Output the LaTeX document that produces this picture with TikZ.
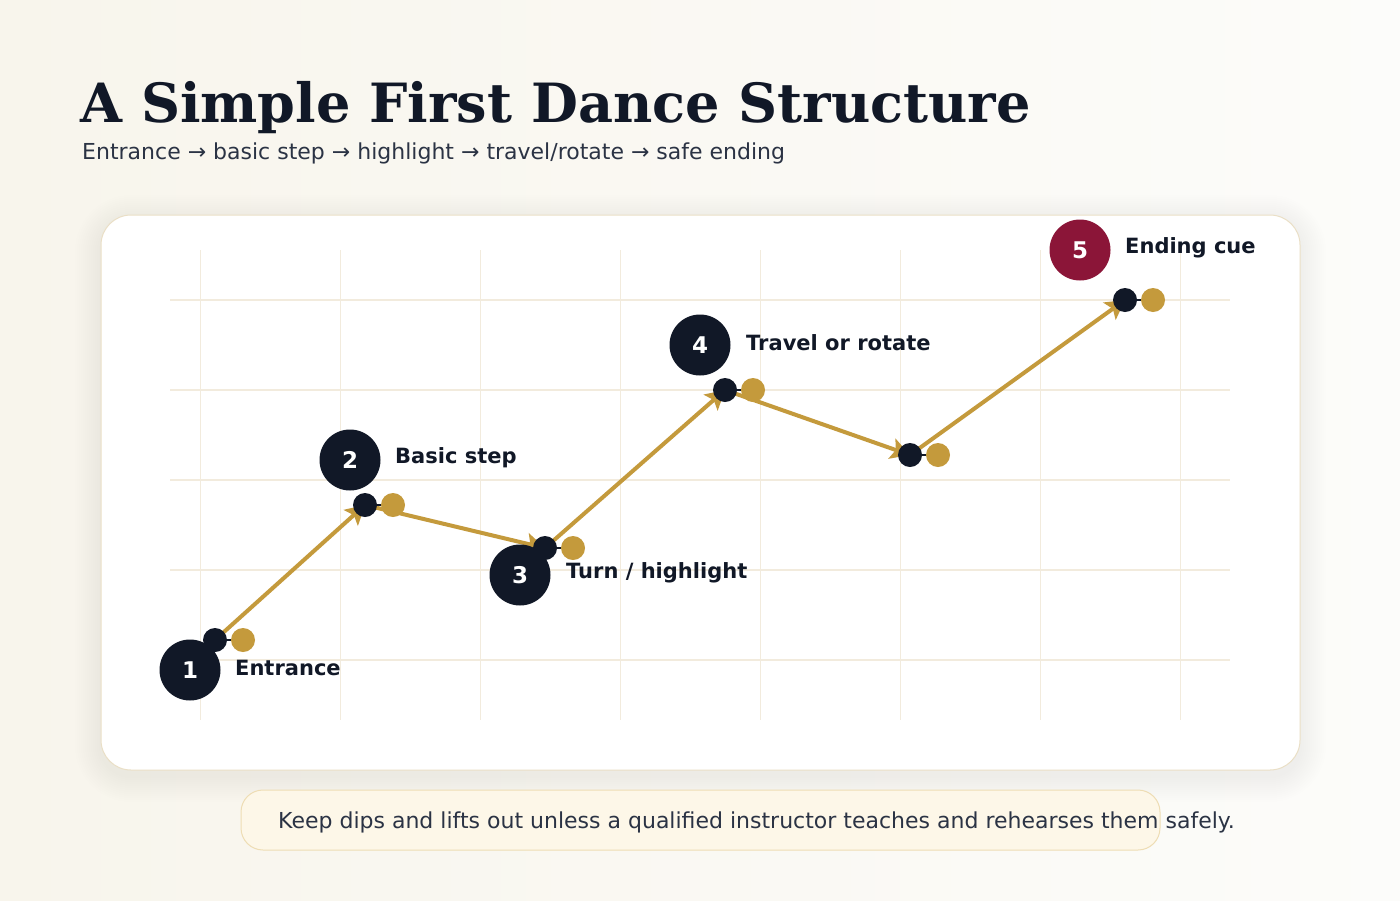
\documentclass[tikz,border=0pt]{standalone}
\usepackage{fontspec}
\usepackage{tikz}
\usepackage{xcolor}
\usetikzlibrary{arrows.meta}
\setmainfont{DejaVu Sans}
\newfontfamily\titlefont{DejaVu Serif}

\definecolor{ink}{HTML}{111827}
\definecolor{subink}{HTML}{2B3344}
\definecolor{gold}{HTML}{C49A3C}
\definecolor{wine}{HTML}{8B1538}
\definecolor{gridc}{HTML}{F2EBDD}
\definecolor{cardline}{HTML}{EADFC6}
\definecolor{notefill}{HTML}{FDF7E8}
\definecolor{noteline}{HTML}{EEDDB4}
\definecolor{bgleft}{HTML}{F8F5EC}
\definecolor{bgright}{HTML}{FCFCFA}

\tikzset{
  dotdark/.style={circle, fill=ink, inner sep=0pt, minimum size=24pt},
  dotgold/.style={circle, fill=gold, inner sep=0pt, minimum size=24pt},
  badge/.style={circle, fill=ink, inner sep=0pt, minimum size=61pt,
    text=white, font=\fontsize{23}{26}\selectfont\bfseries},
  steplabel/.style={anchor=west, inner sep=0pt, text=ink,
    font=\fontsize{21}{26}\selectfont\bfseries},
  trail/.style={draw=gold, line width=4pt, -{Stealth[length=19pt, width=21pt, inset=4pt]}},
  gridline/.style={draw=gridc, line width=1.2pt}
}

\begin{document}
\begin{tikzpicture}[x=1pt, y=-1pt]
    % Background
    \useasboundingbox (0,0) rectangle (1400,900);
    \shade[left color=bgleft, right color=bgright] (0,0) rectangle (1400,900);

    % Title and subtitle
    \node[anchor=base west, inner sep=0pt, text=ink,
      font=\titlefont\fontsize{54.1}{60}\selectfont\bfseries] (title) at (80,122)
      {A Simple First Dance Structure};
    \node[anchor=base west, inner sep=0pt, text=subink,
      font=\fontsize{22}{26}\selectfont] (subtitle) at (82,159)
      {Entrance → basic step → highlight → travel/rotate → safe ending};

    % Card with soft shadow
    \foreach \s in {2,4,...,26}
      \fill[black, opacity=0.0035, rounded corners=30pt+\s pt]
        (101-\s,221-\s) rectangle (1300+\s,776+\s);
    \draw[cardline, fill=white, line width=1pt, rounded corners=30pt]
      (101,215) rectangle (1300,770);

    % Grid
    \foreach \y in {300,390,480,570,660}
      \draw[gridline] (170,\y) -- (1230,\y);
    \foreach \x in {200,340,480,620,760,900,1040,1180}
      \draw[gridline, line width=0.8pt] (\x,250) -- (\x,720);

    % Path points
    \coordinate (p1) at (215,640);
    \coordinate (p2) at (365,505);
    \coordinate (p3) at (545,548);
    \coordinate (p4) at (725,390);
    \coordinate (p5) at (910,455);
    \coordinate (p6) at (1125,300);

    \draw[trail] (p1) -- (p2);
    \draw[trail] (p2) -- (p3);
    \draw[trail] (p3) -- (p4);
    \draw[trail] (p4) -- (p5);
    \draw[trail] (p5) -- (p6);

    % Badges and labels
    \node[badge] (b1) at (190,670) {1};
    \node[badge] (b2) at (350,460) {2};
    \node[badge] (b3) at (520,575) {3};
    \node[badge] (b4) at (700,345) {4};
    \node[badge, fill=wine] (b5) at (1080,250) {5};

    \node[steplabel] (l1) at (235,668) {Entrance};
    \node[steplabel] (l2) at (395,458) {Basic step};
    \node[steplabel] (l3) at (566,573) {Turn / highlight};
    \node[steplabel] (l4) at (746,343) {Travel or rotate};
    \node[steplabel] (l5) at (1125,248) {Ending cue};

    % Markers: dark dot with gold partner
    \foreach \i in {1,...,6} {
      \node[dotdark] (d\i) at (p\i) {};
      \node[dotgold] (g\i) at ([xshift=28pt]p\i) {};
      \draw[ink, line width=2.5pt] (d\i) -- (g\i);
    }

    % Safety note
    \draw[noteline, fill=notefill, line width=1pt, rounded corners=22pt]
      (241,790) rectangle (1160,850);
    \node[anchor=west, inner sep=0pt, text=subink,
      font=\fontsize{22}{26}\selectfont] (note) at (278,822)
      {Keep dips and lifts out unless a qualified instructor teaches and rehearses them safely.};
\end{tikzpicture}
\end{document}
